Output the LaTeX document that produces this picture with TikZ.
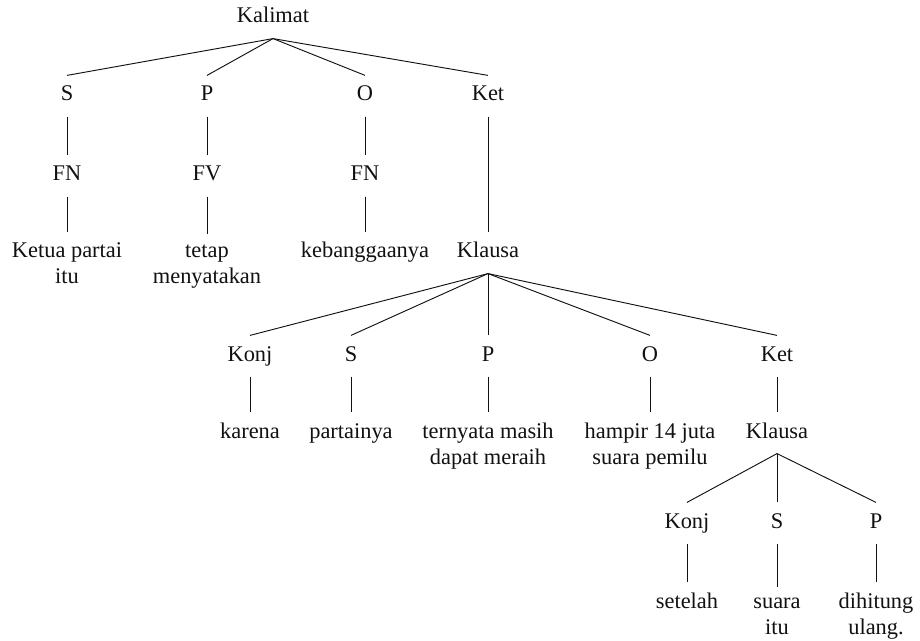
\documentclass[tikz,border=0pt]{standalone}
\usepackage{fontspec}
\setmainfont{Liberation Serif}
\usepackage{tikz}
\definecolor{ktInk}{HTML}{111111}
\tikzset{
  kt text/.style={
    font=\fontsize{16.8}{19.5}\selectfont,
    text=ktInk,
    anchor=base,
    align=center,
    inner xsep=2pt,
    inner ysep=8pt
  },
  kt label/.style={kt text, text height=11pt, text depth=3.5pt},
  kt words/.style={kt text},
  kt branch/.style={draw=ktInk, line width=.7pt}
}
\begin{document}
\begin{tikzpicture}[x=.75pt,y=-.75pt]
  \useasboundingbox (0,0) rectangle (920,641);

  % top level
  \node[kt label] (kal) at (273,23) {Kalimat};
  \node[kt label] (s1) at (67,101) {S};
  \node[kt label] (p1) at (207,101) {P};
  \node[kt label] (o1) at (365,101) {O};
  \node[kt label] (ket1) at (488,101) {Ket};

  \node[kt label] (fn1) at (67,181) {FN};
  \node[kt label] (fv1) at (207,181) {FV};
  \node[kt label] (fn2) at (365,181) {FN};

  \node[kt words] (w1) at (67,284) {Ketua partai\\itu};
  \node[kt words] (w2) at (207,284) {tetap\\menyatakan};
  \node[kt label] (w3) at (365,258) {kebanggaanya};
  \node[kt label] (kl1) at (488,258) {Klausa};

  % first clause
  \node[kt label] (konj2) at (250,361) {Konj};
  \node[kt label] (s2) at (351,361) {S};
  \node[kt label] (p2) at (488,361) {P};
  \node[kt label] (o2) at (650,361) {O};
  \node[kt label] (ket2) at (777,361) {Ket};

  \node[kt label] (w4) at (250,438) {karena};
  \node[kt label] (w5) at (351,438) {partainya};
  \node[kt words] (w6) at (488,464) {ternyata masih\\dapat meraih};
  \node[kt words] (w7) at (650,464) {hampir 14 juta\\suara pemilu};
  \node[kt label] (kl2) at (777,438) {Klausa};

  % second clause
  \node[kt label] (konj3) at (687,528) {Konj};
  \node[kt label] (s3) at (777,528) {S};
  \node[kt label] (p3) at (876,528) {P};

  \node[kt label] (w8) at (687,608) {setelah};
  \node[kt words] (w9) at (777,634) {suara\\itu};
  \node[kt words] (w10) at (876,634) {dihitung\\ulang.};

  \draw[kt branch] (kal.south) -- (s1.north);
  \draw[kt branch] (kal.south) -- (p1.north);
  \draw[kt branch] (kal.south) -- (o1.north);
  \draw[kt branch] (kal.south) -- (ket1.north);
  \draw[kt branch] (s1) -- (fn1);
  \draw[kt branch] (p1) -- (fv1);
  \draw[kt branch] (o1) -- (fn2);
  \draw[kt branch] (fn1) -- (w1.north);
  \draw[kt branch] (fv1) -- (w2.north);
  \draw[kt branch] (fn2) -- (w3);
  \draw[kt branch] (ket1) -- (kl1);

  \draw[kt branch] (kl1.south) -- (konj2.north);
  \draw[kt branch] (kl1.south) -- (s2.north);
  \draw[kt branch] (kl1.south) -- (p2.north);
  \draw[kt branch] (kl1.south) -- (o2.north);
  \draw[kt branch] (kl1.south) -- (ket2.north);
  \draw[kt branch] (konj2) -- (w4);
  \draw[kt branch] (s2) -- (w5);
  \draw[kt branch] (p2) -- (w6.north);
  \draw[kt branch] (o2) -- (w7.north);
  \draw[kt branch] (ket2) -- (kl2);

  \draw[kt branch] (kl2.south) -- (konj3.north);
  \draw[kt branch] (kl2.south) -- (s3.north);
  \draw[kt branch] (kl2.south) -- (p3.north);
  \draw[kt branch] (konj3) -- (w8);
  \draw[kt branch] (s3) -- (w9.north);
  \draw[kt branch] (p3) -- (w10.north);
\end{tikzpicture}
\end{document}
